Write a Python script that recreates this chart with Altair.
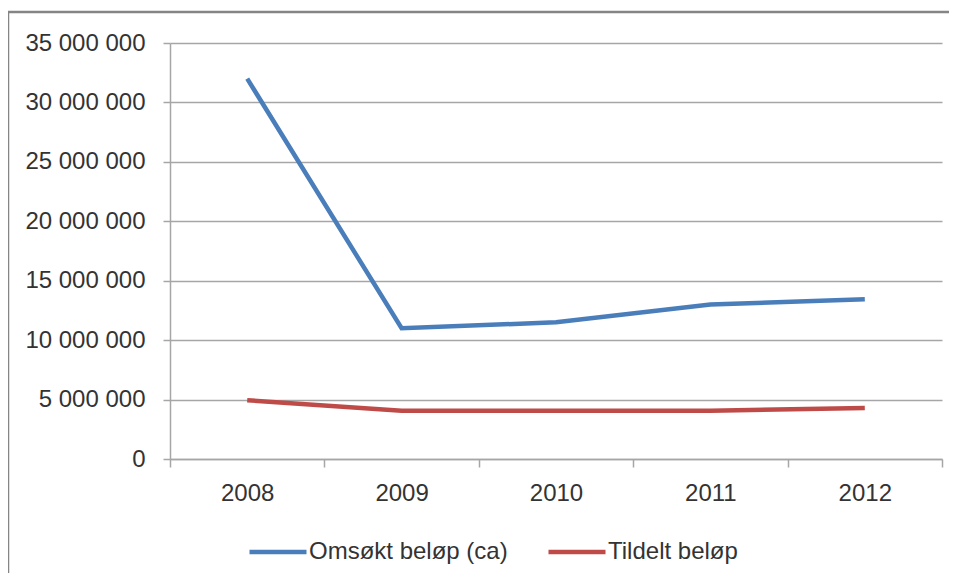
import altair as alt
import pandas as pd

years = [2008, 2009, 2010, 2011, 2012]
omsokt = [32000000, 11000000, 11500000, 13000000, 13450000]
tildelt = [4950000, 4050000, 4050000, 4050000, 4300000]
series_names = ["Omsøkt beløp (ca)", "Tildelt beløp"]
colors = ["#4A7EBB", "#BE4B48"]

rows = []
for name, vals in zip(series_names, [omsokt, tildelt]):
    for yr, v in zip(years, vals):
        rows.append({"year": yr, "value": v, "series": name})
df = pd.DataFrame(rows)

y_ticks = list(range(0, 35000001, 5000000))
half_ticks = [yr - 0.5 for yr in years] + [years[-1] + 0.5]

FONT = "Liberation Sans"
GRID = "#a6a6a6"
TXT = "#333333"
FS = 24

x_scale = alt.Scale(domain=[years[0] - 0.5, years[-1] + 0.5], nice=False, zero=False)
y_scale = alt.Scale(domain=[0, 35000000], nice=False)
y_axis = alt.Axis(
    values=y_ticks, title=None, grid=True, gridColor=GRID, gridWidth=1.5,
    domainColor=GRID, domainWidth=1.5,
    tickColor=GRID, tickWidth=1.5, tickSize=7,
    labelExpr="replace(format(datum.value, ','), regexp(',', 'g'), ' ')",
    labelFontSize=FS, labelFont=FONT, labelColor=TXT, labelPadding=18,
)

# category boundary ticks (Excel style, between categories)
tick_layer = alt.Chart(df).mark_line(opacity=0).encode(
    x=alt.X("year:Q", scale=x_scale,
            axis=alt.Axis(values=half_ticks, title=None, grid=False, labels=False,
                          orient="bottom", domainColor=GRID, domainWidth=1.5,
                          tickColor=GRID, tickWidth=1.5, tickSize=8)),
    y=alt.Y("value:Q", scale=y_scale, axis=y_axis),
    detail="series:N",
)

lines = alt.Chart(df).mark_line(strokeWidth=4.5, clip=False).encode(
    x=alt.X("year:Q", scale=x_scale,
            axis=alt.Axis(values=years, title=None, grid=False, format="d",
                          orient="bottom", domain=False, ticks=False, tickSize=0,
                          labelFontSize=FS, labelFont=FONT, labelColor=TXT,
                          labelPadding=22, labelFlush=False, labelOverlap=False)),
    y=alt.Y("value:Q", scale=y_scale, axis=y_axis),
    color=alt.Color(
        "series:N",
        scale=alt.Scale(domain=series_names, range=colors),
        sort=series_names,
        legend=alt.Legend(
            title=None, orient="none", legendX=77, legendY=478,
            direction="horizontal", columns=2, symbolType="stroke",
            symbolSize=3249, symbolStrokeWidth=4.5, labelFontSize=FS,
            labelFont=FONT, labelColor=TXT, labelOffset=0, columnPadding=31,
            labelLimit=0,
        ),
    ),
)

frame = alt.Chart(alt.Data(values=[{}])).mark_rect(
    filled=False, stroke="#858585", strokeWidth=2.5, clip=False
).encode(
    x=alt.value(-162), x2=alt.value(800), y=alt.value(-31), y2=alt.value(600)
)

chart = alt.layer(frame, tick_layer, lines).resolve_axis(x="independent").properties(
    width=772, height=416,
    autosize=alt.AutoSizeParams(type="none"),
    padding={"left": 162, "top": 35, "right": 7, "bottom": 114},
).configure_view(stroke=None)

chart.save("out.html", embed_options={"renderer": "svg", "actions": False})
